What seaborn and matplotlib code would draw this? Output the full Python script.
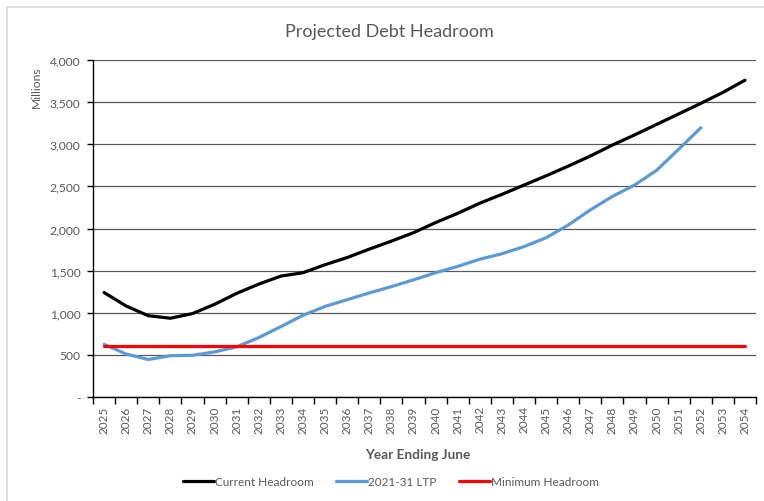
import numpy as np
import pandas as pd
import matplotlib
matplotlib.use("Agg")
import matplotlib.pyplot as plt
from matplotlib.patches import Rectangle
from matplotlib.ticker import FuncFormatter, FixedLocator
import seaborn as sns

years = [str(y) for y in range(2025, 2055)]

current_headroom = [1240, 1080, 965, 935, 990, 1100, 1230, 1340, 1435, 1475,
                    1570, 1655, 1755, 1850, 1950, 2070, 2180, 2300, 2405, 2515,
                    2625, 2740, 2860, 2990, 3110, 3235, 3360, 3485, 3615, 3760]

ltp_2021_31 = [625, 510, 445, 490, 495, 535, 595, 705, 835, 970,
               1075, 1155, 1235, 1310, 1390, 1475, 1550, 1635, 1700, 1785,
               1890, 2040, 2220, 2380, 2515, 2690, 2940, 3195, np.nan, np.nan]

minimum_headroom = [600] * len(years)

series_names = ["Current Headroom", "2021-31 LTP", "Minimum Headroom"]
series_colors = ["#000000", "#5B9BD5", "#FF0000"]

df = pd.DataFrame({
    "pos": np.arange(len(years)),
    series_names[0]: current_headroom,
    series_names[1]: ltp_2021_31,
    series_names[2]: minimum_headroom,
})
long_df = df.melt(id_vars="pos", var_name="series", value_name="value").dropna()

sns.set_theme(style="white")
plt.rcParams["font.family"] = ["Lato", "DejaVu Sans"]

text_grey = "#595959"

fig = plt.figure(figsize=(7.64, 5.02), dpi=100)
ax = fig.add_axes([93 / 764, 1 - 398 / 502, (756 - 93) / 764, (398 - 61) / 502])

# light chart-area frame
fig.patches.append(Rectangle((7 / 764, -0.1), 1.2, (502 - 8) / 502 + 0.1,
                             transform=fig.transFigure, fill=False,
                             edgecolor="#d9d9d9", linewidth=1.2, zorder=0))

sns.lineplot(data=long_df, x="pos", y="value", hue="series",
             hue_order=series_names, palette=series_colors,
             linewidth=2.3, ax=ax, legend=False, sort=False)

ax.set_xlim(-0.5, len(years) - 0.5)
ax.set_ylim(0, 4000)

# horizontal gridlines
ax.set_yticks(np.arange(0, 4001, 500))
ax.yaxis.grid(True, color="#5a5a5a", linewidth=0.9)
ax.xaxis.grid(False)
ax.set_axisbelow(True)

ax.yaxis.set_major_formatter(FuncFormatter(lambda v, p: "-" if v == 0 else f"{int(v):,}"))

ax.xaxis.set_major_locator(FixedLocator(np.arange(len(years))))
ax.set_xticklabels(years, rotation=90)
ax.xaxis.set_minor_locator(FixedLocator(np.arange(len(years) + 1) - 0.5))
ax.tick_params(axis="x", which="major", length=0, pad=6, labelsize=8.5, labelcolor=text_grey)
ax.tick_params(axis="x", which="minor", length=5, width=1, color="black", direction="out", bottom=True)
ax.tick_params(axis="y", which="major", length=4, width=1, color="black", direction="out",
               left=True, labelsize=8.7, labelcolor=text_grey, pad=5)

for side in ["top", "right"]:
    ax.spines[side].set_visible(False)
for side in ["left", "bottom"]:
    ax.spines[side].set_color("black")
    ax.spines[side].set_linewidth(1)

ax.set_xlabel("")
ax.set_ylabel("")

fig.text(389 / 764, 1 - 32 / 502, "Projected Debt Headroom", ha="center", va="center",
         fontsize=13, color=text_grey)
fig.text(36 / 764, 1 - 87 / 502, "Millions", ha="center", va="center", rotation=90,
         fontsize=8.7, color=text_grey)
fig.text(418 / 764, 1 - 455 / 502, "Year Ending June", ha="center", va="center",
         fontsize=9.8, fontweight="bold", color=text_grey)

handles = [plt.Line2D([], [], color=c, linewidth=2.3) for c in series_colors]
fig.legend(handles, series_names, loc="center", bbox_to_anchor=(391 / 764, 1 - 483 / 502),
           ncol=3, frameon=False, fontsize=8.5, handlelength=2.6, handletextpad=0.1,
           columnspacing=1.9, labelcolor=text_grey)

fig.savefig("out.png", dpi=100)
